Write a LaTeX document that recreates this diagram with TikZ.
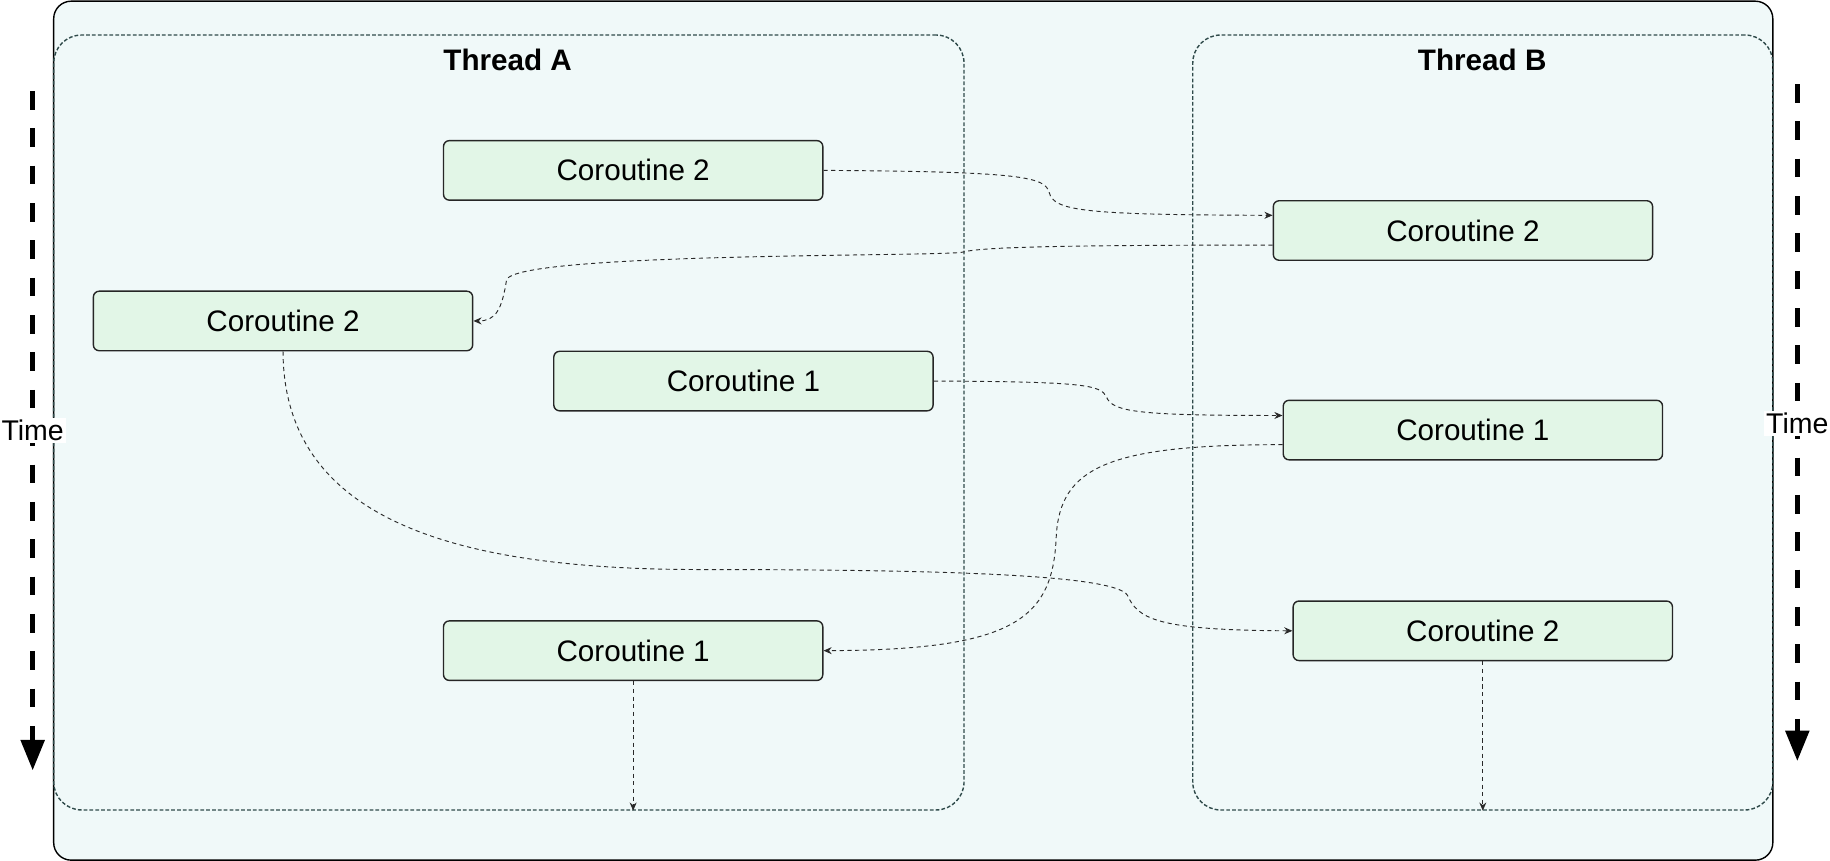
\documentclass[tikz,border=0pt]{standalone}
\usepackage{fontspec}
\setmainfont{Liberation Sans}
\usetikzlibrary{arrows.meta}
\definecolor{bgfill}{HTML}{F0F9F9}
\definecolor{boxfill}{HTML}{E2F6E7}
\definecolor{thrline}{HTML}{2F4A4A}
\definecolor{conn}{HTML}{2A2A2A}
\tikzset{
  outerbox/.style={draw=black, line width=0.6pt, fill=bgfill, rounded corners=7.5pt, minimum width=736.5pt, minimum height=368pt, inner sep=0pt},
  threadbox/.style={draw=thrline, line width=0.6pt, dash pattern=on 1.6pt off 0.9pt, rounded corners=12pt, inner sep=0pt, minimum height=332pt},
  cbox/.style={draw=black!85, line width=0.6pt, fill=boxfill, rounded corners=2.5pt, minimum width=162.5pt, minimum height=25.5pt, inner sep=0pt, font=\fontsize{12.7pt}{14pt}\selectfont},
  ttl/.style={font=\fontsize{12.7pt}{14pt}\selectfont\bfseries},
  conline/.style={draw=conn, line width=0.4pt, dash pattern=on 1.8pt off 1.5pt, -{Stealth[length=3.5pt,width=3pt]}},
  timearrow/.style={draw=black, line width=1.9pt, dash pattern=on 8pt off 8pt, -{Triangle[length=13pt,width=10pt]}},
  timelbl/.style={fill=white, inner sep=1pt, font=\fontsize{12.2pt}{14pt}\selectfont}
}
\begin{document}
\begin{tikzpicture}[x=0.5pt,y=-0.5pt]
\useasboundingbox (0,0) rectangle (1568,737.7);
\node[outerbox] (outer) at (782.5,369) {};
\node[threadbox, minimum width=390pt] (thA) at (436,362) {};
\node[threadbox, minimum width=248.5pt] (thB) at (1270.5,362) {};
\node[ttl] (tA) at (435,51) {Thread A};
\node[ttl] (tB) at (1270,51) {Thread B};
% time arrows
\coordinate (lt0) at (28,78);
\coordinate (lt1) at (28,660);
\coordinate (rt0) at (1540,72);
\coordinate (rt1) at (1540,652);
\draw[timearrow] (lt0) -- (lt1);
\draw[timearrow] (rt0) -- (rt1);
\node[timelbl] (tl) at (28,369) {Time};
\node[timelbl] (tr) at (1540,363) {Time};
% coroutine boxes
\node[cbox] (a1) at (542.5,146) {Coroutine 2};
\node[cbox] (a2) at (242.5,275) {Coroutine 2};
\node[cbox] (a3) at (637,326.5) {Coroutine 1};
\node[cbox] (a4) at (542.5,557.5) {Coroutine 1};
\node[cbox] (b1) at (1253.5,197.5) {Coroutine 2};
\node[cbox] (b2) at (1262,368.5) {Coroutine 1};
\node[cbox] (b3) at (1270.5,540.5) {Coroutine 2};
% connectors
\draw[conline] (a1.east) .. controls (880,147) and (895,152) .. (899,165) .. controls (903,181) and (930,184) .. ([yshift=6.5pt]b1.west);
\draw[conline] ([yshift=-6.25pt]b1.west) .. controls (900,210) and (840,212) .. (825,216) .. controls (810,220) and (440,216) .. (434,240) .. controls (430,265) and (425,275) .. (a2.east);
\draw[conline] (a3.east) .. controls (930,327) and (943,330) .. (948,340) .. controls (953,353) and (975,356) .. ([yshift=6.25pt]b2.west);
\draw[conline] ([yshift=-6.25pt]b2.west) .. controls (950,381) and (908,400) .. (905,460) .. controls (902,530) and (870,557) .. (a4.east);
\draw[conline] (a2.south) .. controls (243,450) and (400,488) .. (600,488) .. controls (800,488) and (955,492) .. (966,510) .. controls (975,530) and (990,540) .. (b3.west);
\draw[conline] (a4.south) -- (a4.south |- thA.south);
\draw[conline] (b3.south) -- (b3.south |- thB.south);
\end{tikzpicture}
\end{document}
